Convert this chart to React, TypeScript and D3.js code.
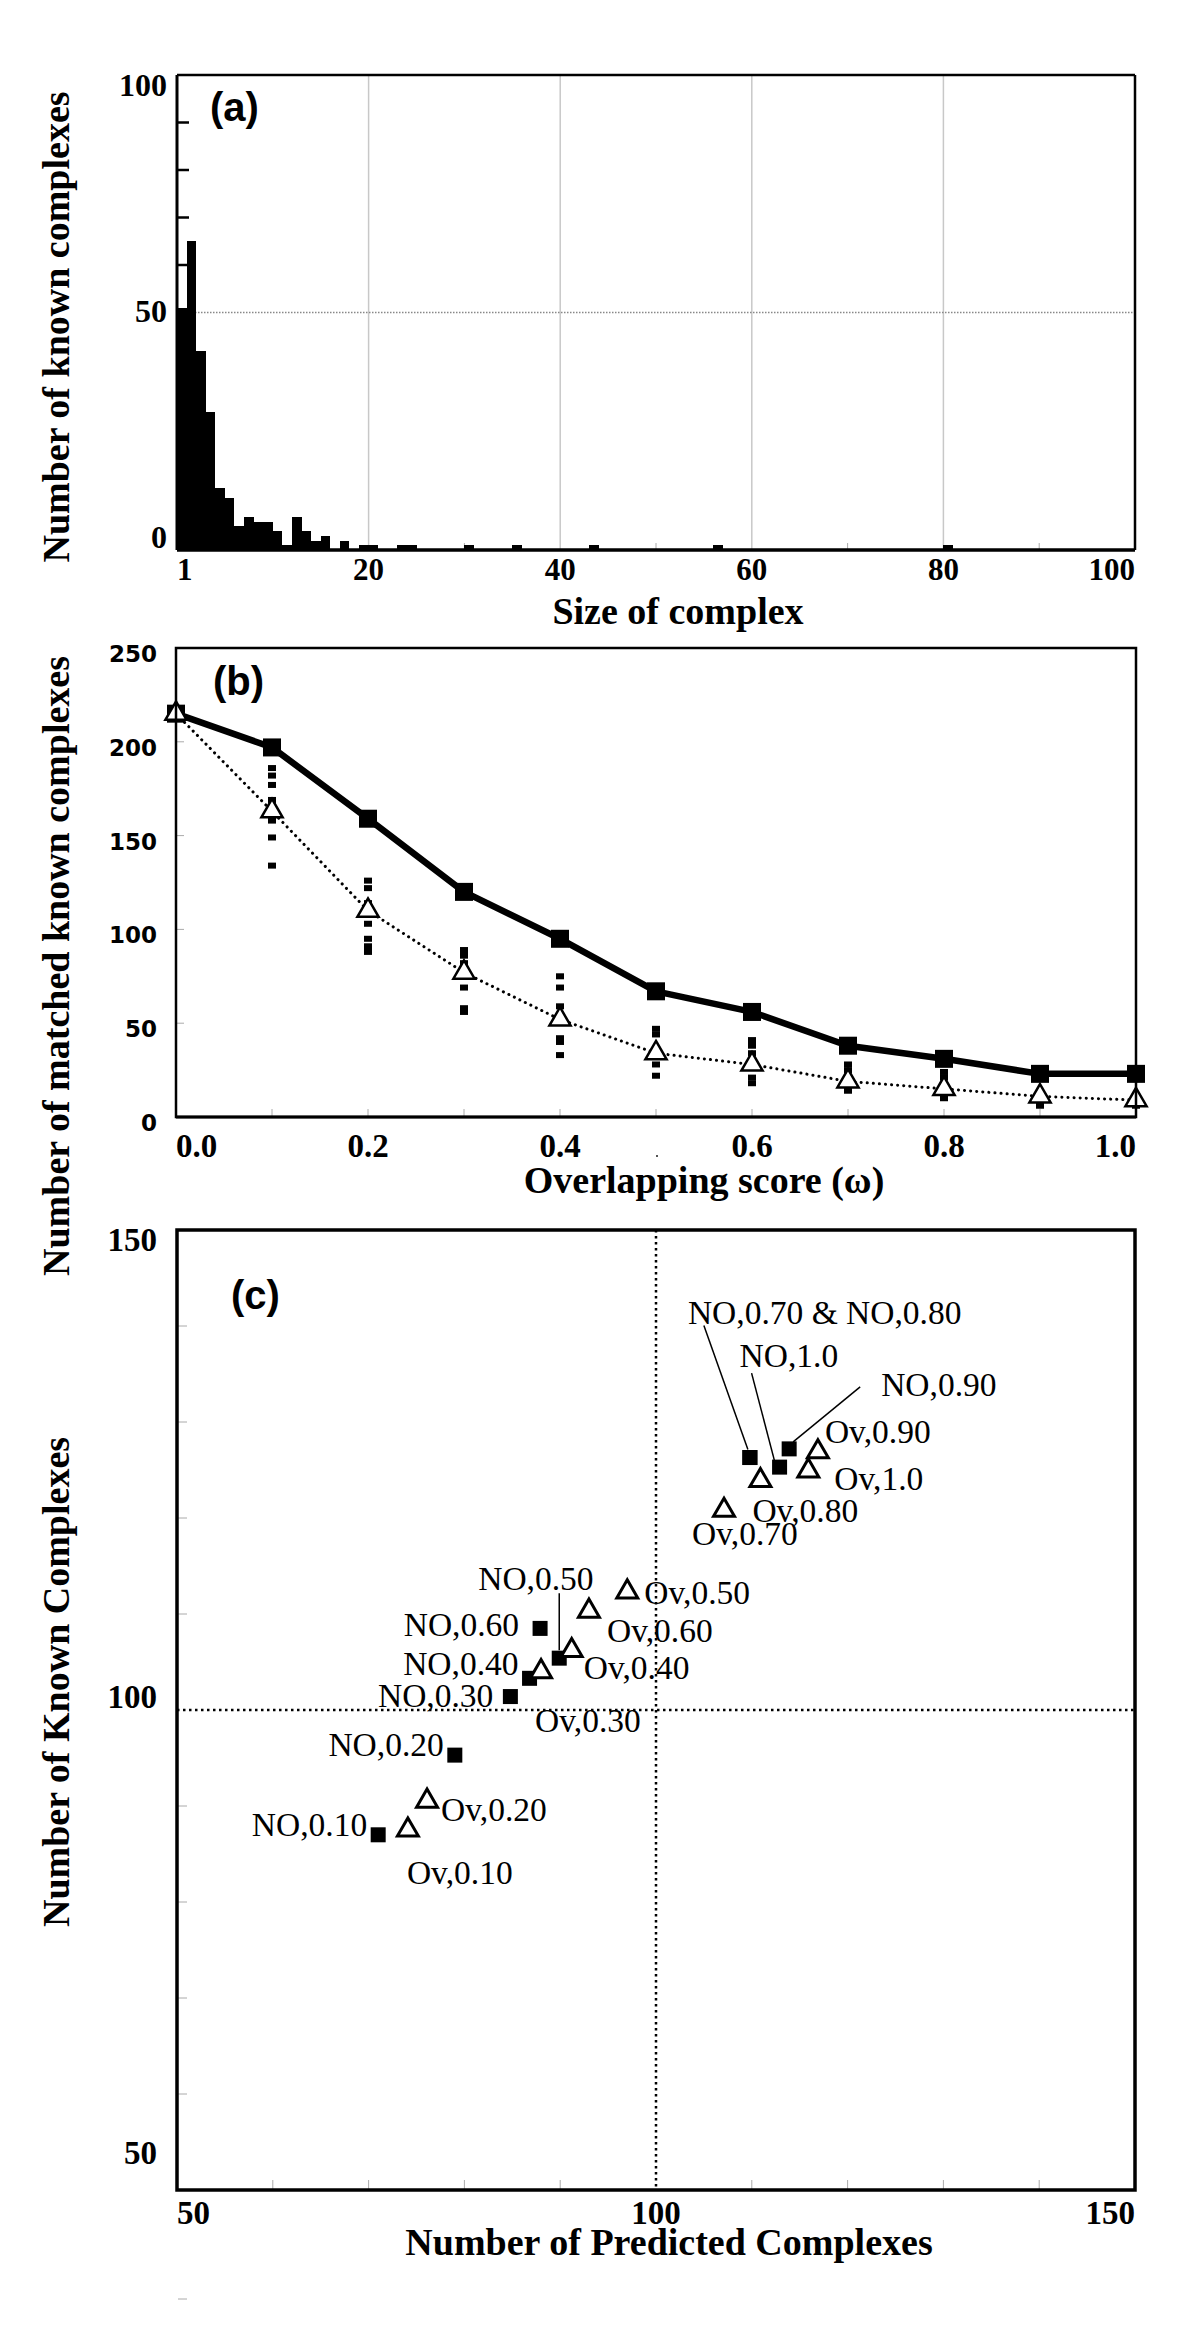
import React from "react";
import * as d3 from "d3";

// ---------- Panel (a): size distribution of known complexes ----------
const complexSizes = [1, 2, 3, 4, 5, 6, 7, 8, 9, 10, 11, 12, 13, 14, 15, 16, 18, 20, 21, 24, 25, 31, 36, 44, 57, 81];
const complexCounts = [51, 65, 42, 29, 13, 11, 5, 7, 6, 6, 4, 1, 7, 4, 2, 3, 2, 1, 1, 1, 1, 1, 1, 1, 1, 1];
const sizeTickValues = [0, 20, 40, 60, 80, 100];
const sizeTickLabels = ["1", "20", "40", "60", "80", "100"];
const countTickValues = [0, 50, 100];

// ---------- Panel (b): matched known complexes vs overlapping score ----------
const omegaValues = [0, 0.1, 0.2, 0.3, 0.4, 0.5, 0.6, 0.7, 0.8, 0.9, 1.0];
const noMatched = [215, 197, 159, 120, 95, 67, 56, 38, 31, 23, 23];
const ovMatched = [215, 163, 110, 77, 52, 34, 28, 19, 15, 11, 9];
const spreadOmega = [0.1, 0.2, 0.3, 0.4, 0.5, 0.6, 0.7, 0.8, 0.9, 1.0];
const spreadMatched = [
  [186, 182, 177, 169, 158, 149, 134],
  [126, 122, 114, 103, 95, 91, 88],
  [89, 86, 82, 78, 69, 58, 56],
  [75, 69, 59, 42, 40, 33],
  [47, 44, 28, 22],
  [41, 38, 34, 21, 18],
  [28, 25, 14],
  [24, 21, 10],
  [6],
  [6],
];
const omegaTickLabels = ["0.0", "0.2", "0.4", "0.6", "0.8", "1.0"];
const omegaTickValues = [0, 0.2, 0.4, 0.6, 0.8, 1.0];
const matchedTickValues = [0, 50, 100, 150, 200, 250];

// ---------- Panel (c): predicted vs known complexes ----------
const thresholdNames = ["0.10", "0.20", "0.30", "0.40", "0.50", "0.60", "0.70", "0.80", "0.90", "1.0"];
const noPredicted = [71, 79, 84.8, 86.8, 89.9, 87.9, 109.8, 109.8, 113.9, 112.9];
const noKnown = [87, 95.3, 101.4, 103.3, 105.4, 108.5, 126.3, 126.3, 127.2, 125.3];
const ovPredicted = [74.1, 76.1, 88, 91.2, 97, 93, 107.1, 110.9, 116.9, 115.9];
const ovKnown = [87.5, 90.5, 104, 106.2, 112.3, 110.3, 120.8, 123.9, 126.9, 124.9];
const scatterTickValues = [50, 100, 150];
const referenceLevel = 100;

// label layout (pixel offsets from the marker), kept apart from data
const noLabelLayout = [
  { anchor: "end", dx: -11, dy: 1 },
  { anchor: "end", dx: -11, dy: 1 },
  { anchor: "end", dx: -17, dy: 10 },
  { anchor: "end", dx: -11, dy: -3 },
  { anchor: "start", dx: -81, dy: -68, leader: [0, -65, 0, -8] },
  { anchor: "end", dx: -21, dy: 8 },
  { anchor: "start", dx: -62, dy: -134, leader: [-46, -132, -2, -8], text: "NO,0.70 & NO,0.80" },
  null,
  { anchor: "start", dx: 92, dy: -53, leader: [71, -62, 4, -7] },
  { anchor: "start", dx: -40, dy: -100, leader: [-28, -94, -5, -6] },
];
const ovLabelLayout = [
  { dx: -1, dy: 54 },
  { dx: 14, dy: 20 },
  { dx: -6, dy: 60 },
  { dx: 12, dy: 29 },
  { dx: 17, dy: 12 },
  { dx: 18, dy: 31 },
  { dx: -32, dy: 35 },
  { dx: -8, dy: 41 },
  { dx: 7, dy: -9 },
  { dx: 26, dy: 19 },
];

const SERIF = "'Liberation Serif', 'Times New Roman', serif";
const SANS = "'Liberation Sans', Arial, sans-serif";
const VERD = "'DejaVu Sans', Verdana, sans-serif";

function tickAnchor(i: number, n: number) {
  return i === 0 ? "start" : i === n - 1 ? "end" : "middle";
}

function PanelA() {
  const x = d3.scaleLinear().domain([0, 100]).range([177, 1135]);
  const y = d3.scaleLinear().domain([0, 100]).range([550, 75]);
  const yLab = d3.scaleLinear().domain([0, 100]).range([537, 85]);
  const [x0, x1] = x.range();
  const [y0, y1] = y.range();
  return (
    <g>
      {[20, 40, 60, 80].map((v) => (
        <line key={v} x1={x(v)} x2={x(v)} y1={y1} y2={y0} stroke="#c8c8c8" strokeWidth={1.5} />
      ))}
      <line x1={x0} x2={x1} y1={y(50)} y2={y(50)} stroke="#888" strokeWidth={1.5} strokeDasharray="1.5,1.5" />
      {d3.range(10, 100, 10).map((v) => (
        <line key={v} x1={x0} x2={x0 + 12} y1={y(v)} y2={y(v)} stroke="#000" strokeWidth={2.5} />
      ))}
      {[10, 30, 50, 70, 90].map((v) => (
        <line key={v} x1={x(v)} x2={x(v)} y1={y0} y2={y0 - 7} stroke="#aaa" strokeWidth={1} />
      ))}
      {complexSizes.map((s, i) => (
        <rect
          key={s}
          x={x(s - 1)}
          width={x(s) - x(s - 1)}
          y={y(complexCounts[i])}
          height={y(0) - y(complexCounts[i])}
          fill="#000"
          shapeRendering="crispEdges"
        />
      ))}
      <line x1={x0} x2={x1} y1={y1} y2={y1} stroke="#000" strokeWidth={2.5} />
      <line x1={x1} x2={x1} y1={y1} y2={y0} stroke="#000" strokeWidth={2.5} />
      <line x1={x0} x2={x0} y1={y1} y2={y0} stroke="#000" strokeWidth={3} />
      <line x1={x0} x2={x1} y1={y0} y2={y0} stroke="#000" strokeWidth={3.5} />
      {countTickValues.map((v) => (
        <text key={v} x={167} y={yLab(v) + 11} textAnchor="end" fontFamily={SERIF} fontWeight="bold" fontSize={32}>
          {v}
        </text>
      ))}
      {sizeTickValues.map((v, i) => (
        <text key={v} x={x(v)} y={580} textAnchor={tickAnchor(i, sizeTickValues.length)} fontFamily={SERIF} fontWeight="bold" fontSize={31}>
          {sizeTickLabels[i]}
        </text>
      ))}
      <text x={210} y={121} fontFamily={SANS} fontWeight="bold" fontSize={40}>(a)</text>
      <text x={678} y={624} textAnchor="middle" fontFamily={SERIF} fontWeight="bold" fontSize={38}>Size of complex</text>
      <text transform="translate(69,327) rotate(-90)" textAnchor="middle" fontFamily={SERIF} fontWeight="bold" fontSize={38}>
        Number of known complexes
      </text>
    </g>
  );
}

function PanelB() {
  const x = d3.scaleLinear().domain([0, 1]).range([176, 1136]);
  const y = d3.scaleLinear().domain([0, 250]).range([1117, 648]);
  const [x0, x1] = x.range();
  const [y0, y1] = y.range();
  const line = d3.line<number>().x((_, i) => x(omegaValues[i])).y((d) => y(d));
  const tri = d3.symbol(d3.symbolTriangle, 195)();
  return (
    <g>
      {d3.range(1, 10).map((k) => (
        <line key={k} x1={x(k / 10)} x2={x(k / 10)} y1={y0} y2={y0 - 8} stroke="#aaa" strokeWidth={1} />
      ))}
      {[50, 100, 150, 200].map((v) => (
        <line key={v} x1={x0} x2={x0 + 8} y1={y(v)} y2={y(v)} stroke="#aaa" strokeWidth={1} />
      ))}
      {spreadOmega.map((o, i) =>
        spreadMatched[i].map((v, j) => (
          <rect key={`${i}-${j}`} x={x(o) - 4} y={y(v) - 3} width={8} height={6} fill="#000" />
        ))
      )}
      <path d={line(noMatched) || ""} fill="none" stroke="#000" strokeWidth={6.5} strokeLinejoin="round" />
      {noMatched.map((v, i) => (
        <rect key={i} x={x(omegaValues[i]) - 9} y={y(v) - 9} width={18} height={18} fill="#000" />
      ))}
      <path d={line(ovMatched) || ""} fill="none" stroke="#000" strokeWidth={3} strokeDasharray="0.1,6" strokeLinecap="round" />
      {ovMatched.map((v, i) => (
        <path key={i} d={tri || ""} transform={`translate(${x(omegaValues[i])},${y(v)})`} fill="#fff" stroke="#000" strokeWidth={2.5} />
      ))}
      <rect x={x0} y={y1} width={x1 - x0} height={y0 - y1} fill="none" stroke="#000" strokeWidth={2.5} />
      <line x1={x0} x2={x1} y1={y0} y2={y0} stroke="#000" strokeWidth={3} />
      {matchedTickValues.map((v) => (
        <text key={v} x={157} y={y(v) + 14} textAnchor="end" fontFamily={VERD} fontWeight="bold" fontSize={23}>
          {v}
        </text>
      ))}
      {omegaTickValues.map((v, i) => (
        <text key={v} x={x(v)} y={1157} textAnchor={tickAnchor(i, omegaTickValues.length)} fontFamily={SERIF} fontWeight="bold" fontSize={33}>
          {omegaTickLabels[i]}
        </text>
      ))}
      <text x={213} y={695} fontFamily={SANS} fontWeight="bold" fontSize={40}>(b)</text>
      <text x={704} y={1193} textAnchor="middle" fontFamily={SERIF} fontWeight="bold" fontSize={38}>Overlapping score (ω)</text>
      <text transform="translate(69,966) rotate(-90)" textAnchor="middle" fontFamily={SERIF} fontWeight="bold" fontSize={38}>
        Number of matched known complexes
      </text>
      <rect x={656} y={1155} width={2} height={2} fill="#555" />
    </g>
  );
}

function PanelC() {
  const x = d3.scaleLinear().domain([50, 150]).range([177, 1135]);
  const y = d3.scaleLinear().domain([50, 150]).range([2190, 1230]);
  const yLab = d3.scaleLinear().domain([50, 150]).range([2153, 1240]);
  const [x0, x1] = x.range();
  const [y0, y1] = y.range();
  const tri = d3.symbol(d3.symbolTriangle, 190)();
  const minor = [60, 70, 80, 90, 110, 120, 130, 140];
  return (
    <g>
      {minor.map((v) => (
        <g key={v}>
          <line x1={x(v)} x2={x(v)} y1={y0} y2={y0 - 10} stroke="#aaa" strokeWidth={1} />
          <line x1={x0} x2={x0 + 10} y1={y(v)} y2={y(v)} stroke="#aaa" strokeWidth={1} />
        </g>
      ))}
      <line x1={x(referenceLevel)} x2={x(referenceLevel)} y1={y1} y2={y0} stroke="#000" strokeWidth={2.5} strokeDasharray="2.5,3.5" />
      <line x1={x0} x2={x1} y1={y(referenceLevel)} y2={y(referenceLevel)} stroke="#000" strokeWidth={2.5} strokeDasharray="2.5,3.5" />
      <rect x={x0} y={y1} width={x1 - x0} height={y0 - y1} fill="none" stroke="#000" strokeWidth={3.5} />
      {noPredicted.map((p, i) => {
        const cx = x(p);
        const cy = y(noKnown[i]);
        const lay = noLabelLayout[i];
        return (
          <g key={`no${i}`}>
            {lay && lay.leader && (
              <line x1={cx + lay.leader[0]} y1={cy + lay.leader[1]} x2={cx + lay.leader[2]} y2={cy + lay.leader[3]} stroke="#000" strokeWidth={1.5} />
            )}
            <rect x={cx - 7.5} y={cy - 7.5} width={15} height={15} fill="#000" />
            {lay && (
              <text x={cx + lay.dx} y={cy + lay.dy} textAnchor={lay.anchor} fontFamily={SERIF} fontSize={33.5}>
                {lay.text || `NO,${thresholdNames[i]}`}
              </text>
            )}
          </g>
        );
      })}
      {ovPredicted.map((p, i) => {
        const cx = x(p);
        const cy = y(ovKnown[i]);
        const lay = ovLabelLayout[i];
        return (
          <g key={`ov${i}`}>
            <path d={tri || ""} transform={`translate(${cx},${cy})`} fill="#fff" stroke="#000" strokeWidth={3} />
            <text x={cx + lay.dx} y={cy + lay.dy} fontFamily={SERIF} fontSize={33.5}>
              {`Ov,${thresholdNames[i]}`}
            </text>
          </g>
        );
      })}
      {scatterTickValues.map((v) => (
        <text key={v} x={157} y={yLab(v) + 11} textAnchor="end" fontFamily={SERIF} fontWeight="bold" fontSize={33}>
          {v}
        </text>
      ))}
      {scatterTickValues.map((v, i) => (
        <text key={`x${v}`} x={x(v)} y={2224} textAnchor={tickAnchor(i, scatterTickValues.length)} fontFamily={SERIF} fontWeight="bold" fontSize={33}>
          {v}
        </text>
      ))}
      <text x={231} y={1309} fontFamily={SANS} fontWeight="bold" fontSize={40}>(c)</text>
      <text x={669} y={2255} textAnchor="middle" fontFamily={SERIF} fontWeight="bold" fontSize={38}>Number of Predicted Complexes</text>
      <text transform="translate(69,1682) rotate(-90)" textAnchor="middle" fontFamily={SERIF} fontWeight="bold" fontSize={38}>
        Number of Known Complexes
      </text>
      <line x1={178} x2={187} y1={2299} y2={2299} stroke="#aaa" strokeWidth={1} />
    </g>
  );
}

export default function App() {
  return (
    <div style={{ position: "absolute", left: 0, top: 0 }}>
      <svg width={1200} height={2348} viewBox="0 0 1200 2348" style={{ display: "block", background: "#fff" }}>
        <rect x={0} y={0} width={1200} height={2348} fill="#fff" />
        <PanelA />
        <PanelB />
        <PanelC />
      </svg>
    </div>
  );
}
